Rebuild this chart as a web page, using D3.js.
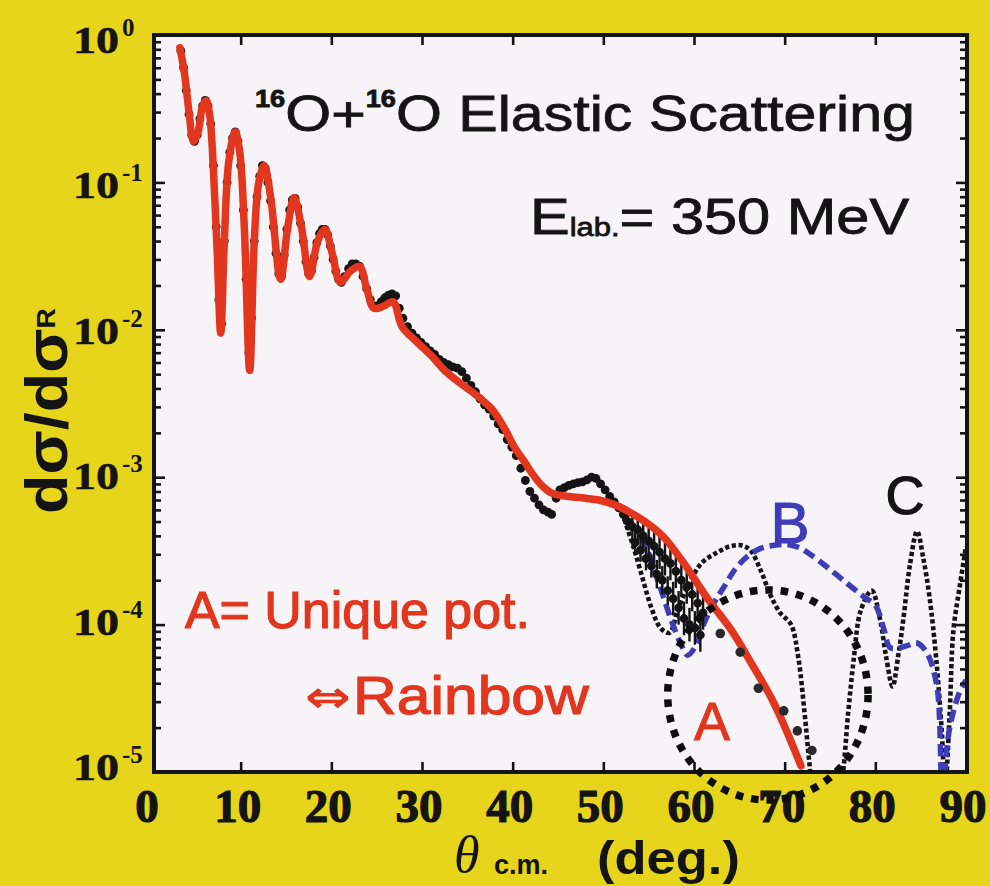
<!DOCTYPE html>
<html>
<head>
<meta charset="utf-8">
<script src="https://cdn.jsdelivr.net/npm/d3@7"></script>
<style>
  html, body { margin: 0; padding: 0; background: #e6d51b; }
  svg { display: block; }
</style>
</head>
<body>
<svg id="chart" width="990" height="886"></svg>
<script>
// ---- 16O + 16O elastic scattering at E_lab = 350 MeV (ratio to Rutherford) ----

// measured cross sections: [theta_cm (deg), dsigma/dsigma_R, error factor]
const measured = [
  [3.4,0.78,1],[3.7,0.6,1],[4.0,0.42,1],[4.3,0.29,1],[4.6,0.21,1],[4.9,0.19,1],[5.2,0.21,1],
  [5.5,0.27,1],[5.8,0.33,1],[6.1,0.36,1],[6.4,0.33,1],[6.7,0.25,1],[7.0,0.13,1],[7.3,0.05,1],
  [7.6,0.016,1],[7.9,0.011,1],[8.2,0.04,1],[8.5,0.1,1],[8.8,0.16,1],[9.1,0.2,1],[9.4,0.22,1],
  [9.7,0.19,1],[10.0,0.13,1],[10.3,0.065,1],[10.6,0.022,1],[10.9,0.007,1],[11.2,0.012,1],
  [11.5,0.04,1],[11.8,0.08,1],[12.1,0.11,1],[12.4,0.13,1],[12.7,0.125,1],[13.0,0.1,1],
  [13.3,0.075,1],[13.6,0.05,1],[13.9,0.033,1],[14.2,0.024,1],[14.5,0.023,1],[14.8,0.032,1],
  [15.1,0.048,1],[15.4,0.065,1],[15.7,0.076,1],[16.0,0.078,1],[16.3,0.068,1],[16.6,0.053,1],
  [16.9,0.04,1],[17.2,0.029,1],[17.5,0.024,1],[17.8,0.025,1],[18.1,0.031,1],[18.4,0.039,1],
  [18.7,0.045,1],[19.0,0.048,1],[19.3,0.048,1],[19.6,0.044,1],[19.9,0.037,1],[20.2,0.03,1],
  [20.5,0.025,1],[20.8,0.022,1],[21.1,0.021,1],[21.5,0.023,1],[21.9,0.026,1],[22.3,0.028,1],
  [22.7,0.028,1],[23.1,0.027,1],[23.5,0.023,1],[23.9,0.019,1],[24.3,0.016,1],[24.7,0.0145,1],
  [25.1,0.0145,1],[25.5,0.0155,1],[25.9,0.0165,1],[26.3,0.0172,1],[26.7,0.0175,1],
  [27.1,0.017,1],[27.5,0.014,1],[27.9,0.012,1],
  [28.4,0.0105,1],[28.9,0.0095,1],[29.4,0.0088,1],[29.9,0.0082,1],[30.4,0.0077,1],
  [30.9,0.0072,1],[31.4,0.0068,1],[31.9,0.0063,1],[32.4,0.006,1],[32.9,0.0058,1],
  [33.4,0.0056,1],[33.9,0.0055,1],[34.4,0.0052,1],[34.9,0.0047,1],[35.4,0.0042,1],
  [35.9,0.0038,1],[36.4,0.0034,1],[36.9,0.0031,1],[37.4,0.0029,1],[37.9,0.0026,1],
  [38.4,0.0023,1],[38.9,0.0021,1],[39.4,0.0018,1],[39.9,0.0016,1],[40.4,0.0014,1],
  [40.9,0.00115,1],[41.4,0.00095,1],[41.9,0.0008,1],[42.4,0.00072,1],[42.9,0.00065,1],
  [43.4,0.0006,1],[43.9,0.00058,1],[44.3,0.00056,1],[44.8,0.00072,1],[45.2,0.00082,1],
  [45.7,0.00085,1],[46.2,0.00088,1],[46.7,0.0009,1],[47.2,0.00092,1],[47.7,0.00093,1],
  [48.2,0.00096,1],[48.7,0.001,1],[49.2,0.00098,1],[49.7,0.0009,1],[50.2,0.00082,1],
  [50.7,0.00074,1],[51.2,0.00068,1],[51.7,0.00062,1],[52.2,0.00056,1.1],[52.7,0.0005,1.15],
  [53.2,0.00046,1.2],[53.5,0.00036,1.2],[53.8,0.00044,1.25],[54.1,0.00032,1.2],
  [54.4,0.0004,1.25],[54.7,0.00028,1.2],[55.0,0.00037,1.3],[55.3,0.00025,1.2],
  [55.6,0.00034,1.3],[55.9,0.00022,1.25],[56.2,0.00031,1.3],[56.5,0.0002,1.25],
  [56.8,0.00028,1.3],[57.1,0.00017,1.25],[57.4,0.00026,1.3],[57.7,0.00015,1.3],
  [58.0,0.00023,1.3],[58.3,0.00013,1.3],[58.6,0.0002,1.3],[58.9,0.00011,1.3],
  [59.2,0.00018,1.3],[59.5,0.0001,1.3],[59.8,0.00016,1.3],[60.1,0.000095,1.3],
  [60.4,0.00014,1.3],[60.7,0.000085,1.3],[61.0,0.00012,1.3],
  [62.9,8.7e-5,1],[65.1,6.5e-5,1],[67.1,3.7e-5,1],[69.9,2.6e-5,1],[71.4,1.9e-5,1],[73.0,1.4e-5,1]
];

// A: unique (rainbow) potential
const thetaA = [3.3,3.8,4.3,4.8,5.3,5.8,6.2,6.6,7.0,7.4,7.8,8.2,8.7,9.4,9.9,10.4,11.0,11.5,
  12.0,12.6,13.3,14.4,15.2,15.9,16.7,17.6,18.5,19.3,20.1,21.0,22.1,23.1,23.9,24.7,25.8,26.8,
  27.8,29.5,31.1,32.5,34.1,36.0,37.7,39.0,40.2,41.2,42.1,43.2,44.3,46.2,48.0,49.5,51.5,53.1,
  55.0,56.7,58.9,61.5,64.1,66.3,68.5,69.9,71.8];
const sigmaA = [0.82,0.55,0.3,0.19,0.22,0.33,0.36,0.28,0.12,0.035,0.0095,0.04,0.14,0.22,0.16,
  0.05,0.0053,0.04,0.1,0.13,0.08,0.022,0.05,0.079,0.05,0.023,0.04,0.048,0.033,0.021,0.025,
  0.027,0.019,0.014,0.0145,0.0155,0.0105,0.0082,0.0066,0.0053,0.0044,0.0036,0.0029,0.0022,
  0.0016,0.0013,0.00107,0.00088,0.00078,0.00074,0.00072,0.0007,0.00064,0.00057,0.00048,
  0.00039,0.00026,0.00015,9.2e-5,5.5e-5,3.2e-5,2.1e-5,1.1e-5];

// B: alternative potential (dashed)
const thetaB = [53.0,54.5,56.0,57.5,58.5,59.3,60.2,61.1,62.2,63.3,64.6,65.9,67.4,68.8,70.2,
  71.5,72.8,74.7,76.9,78.7,80.0,80.9,81.6,82.4,83.5,84.6,85.7,86.8,87.4,88.2,89.3,90.0];
const sigmaB = [5.0e-4,3.6e-4,2.0e-4,1.07e-4,7.5e-5,6.2e-5,7.2e-5,1.02e-4,1.4e-4,1.8e-4,
  2.4e-4,2.9e-4,3.3e-4,3.45e-4,3.5e-4,3.35e-4,3.0e-4,2.45e-4,1.9e-4,1.55e-4,1.35e-4,9.5e-5,
  7.0e-5,6.9e-5,7.2e-5,7.5e-5,6.4e-5,3.8e-5,8e-6,2.0e-5,3.5e-5,4.2e-5];

// C: alternative potential (dotted)
const thetaC = [52.3,53.3,54.2,55.3,56.3,57.3,58.2,59.3,60.8,62.6,64.0,65.2,66.2,67.4,68.4,
  69.5,70.7,71.5,72.2,72.7,73.3,74.8,76.2,77.0,77.6,78.4,79.6,80.5,81.2,81.9,82.5,83.1,83.8,
  84.6,85.3,86.0,86.7,87.3,87.7,88.2,88.6,89.3,90.0];
const sigmaC = [5.2e-4,3.4e-4,2.2e-4,1.3e-4,9.5e-5,8.8e-5,1.25e-4,1.8e-4,2.6e-4,3.1e-4,3.4e-4,
  3.45e-4,3.2e-4,2.3e-4,1.6e-4,1.2e-4,1.0e-4,6.0e-5,2.5e-5,1.2e-5,6e-6,4e-6,8e-6,2.5e-5,
  5.7e-5,1.25e-4,1.7e-4,1.1e-4,6.0e-5,3.8e-5,6.0e-5,1.1e-4,2.5e-4,4.3e-4,2.8e-4,1.5e-4,6e-5,
  2e-5,8e-6,2.5e-5,9e-5,1.8e-4,3.4e-4];

// highlighted rainbow region: theta range and sigma range of the dotted ring
const ringTheta = [57.1, 79.2];
const ringSigma = [1.72e-4, 6.45e-6];

const xTickValues = [0,10,20,30,40,50,60,70,80,90];
const yDecades = [0,-1,-2,-3,-4,-5];

// ---- layout ----
const frame = { left: 154, right: 967, top: 35, bottom: 772 };
const x = d3.scaleLinear().domain([0, 90]).range([150, 966]);
const y = d3.scaleLog().domain([1e-5, 1]).range([frame.bottom, frame.top]);

const RED = "#e2361f", BLUE = "#3e3cb8", INK = "#141414";

const svg = d3.select("#chart");
svg.append("rect").attr("width", 990).attr("height", 886).attr("fill", "#e6d51b");
svg.append("rect")
  .attr("x", frame.left).attr("y", frame.top)
  .attr("width", frame.right - frame.left).attr("height", frame.bottom - frame.top)
  .attr("fill", "#f6f4f6");

svg.append("defs").append("clipPath").attr("id", "plotClip")
  .append("rect")
  .attr("x", frame.left).attr("y", frame.top)
  .attr("width", frame.right - frame.left).attr("height", frame.bottom - frame.top);

const plot = svg.append("g").attr("clip-path", "url(#plotClip)");

const line = d3.line()
  .x(d => x(d[0])).y(d => y(d[1]))
  .curve(d3.curveCatmullRom.alpha(0.5));

const zip = (a, b) => a.map((v, i) => [v, b[i]]);

// C (dotted black)
plot.append("path").datum(zip(thetaC, sigmaC))
  .attr("d", line).attr("fill", "none")
  .attr("stroke", INK).attr("stroke-width", 4.6)
  .attr("stroke-dasharray", "4.2 2.6");

// B (dashed blue)
plot.append("path").datum(zip(thetaB, sigmaB))
  .attr("d", line).attr("fill", "none")
  .attr("stroke", BLUE).attr("stroke-width", 5.5)
  .attr("stroke-dasharray", "12 6");

// measured points below the A curve, with vertical error bars where given
const smallPts = measured.filter(d => d[0] < 62);
plot.selectAll("line.err").data(smallPts.filter(d => d[2] > 1)).join("line")
  .attr("class", "err")
  .attr("x1", d => x(d[0])).attr("x2", d => x(d[0]))
  .attr("y1", d => y(d[1] * d[2])).attr("y2", d => y(d[1] / d[2]))
  .attr("stroke", INK).attr("stroke-width", 2.4);
plot.selectAll("circle.pt").data(smallPts).join("circle")
  .attr("class", "pt")
  .attr("cx", d => x(d[0])).attr("cy", d => y(d[1]))
  .attr("r", 4.4).attr("fill", INK);

// A (red solid)
plot.append("path").datum(zip(thetaA, sigmaA))
  .attr("d", line).attr("fill", "none")
  .attr("stroke", RED).attr("stroke-width", 7.5)
  .attr("stroke-linejoin", "round").attr("stroke-linecap", "round");

// sparse large-angle points
plot.selectAll("circle.pt2").data(measured.filter(d => d[0] >= 62)).join("circle")
  .attr("class", "pt2")
  .attr("cx", d => x(d[0])).attr("cy", d => y(d[1]))
  .attr("r", 4.8).attr("fill", "#2a2a2a");

// ---- axes: inward ticks on all four sides ----
const minorVals = [];
for (let e = -5; e < 0; e++) for (let k = 2; k <= 9; k++) minorVals.push(k * Math.pow(10, e));
const majorVals = yDecades.map(d => Math.pow(10, d));
const xInner = xTickValues.filter(v => v > 0 && v < 90);

function styleAxis(g) {
  g.select(".domain").remove();
  g.selectAll("line").attr("stroke", INK).attr("stroke-width", 2.6);
  g.selectAll("text").remove();
}
svg.append("g").attr("transform", `translate(${frame.left},0)`)
  .call(d3.axisLeft(y).tickValues(majorVals).tickSize(-11)).call(styleAxis);
svg.append("g").attr("transform", `translate(${frame.left},0)`)
  .call(d3.axisLeft(y).tickValues(minorVals).tickSize(-7)).call(styleAxis);
svg.append("g").attr("transform", `translate(${frame.right},0)`)
  .call(d3.axisRight(y).tickValues(majorVals).tickSize(-11)).call(styleAxis);
svg.append("g").attr("transform", `translate(${frame.right},0)`)
  .call(d3.axisRight(y).tickValues(minorVals).tickSize(-7)).call(styleAxis);
svg.append("g").attr("transform", `translate(0,${frame.bottom})`)
  .call(d3.axisBottom(x).tickValues(xInner).tickSize(-10)).call(styleAxis);
svg.append("g").attr("transform", `translate(0,${frame.top})`)
  .call(d3.axisTop(x).tickValues(xInner).tickSize(-10)).call(styleAxis);

svg.append("rect")
  .attr("x", frame.left).attr("y", frame.top)
  .attr("width", frame.right - frame.left).attr("height", frame.bottom - frame.top)
  .attr("fill", "none").attr("stroke", INK).attr("stroke-width", 4);

// ---- tick labels ----
const serif = "'Liberation Serif','Times New Roman',serif";
const sans = "'Liberation Sans',Arial,'DejaVu Sans',sans-serif";

// stretch a text element horizontally to a given span starting at x0
function fit(sel, x0, width) {
  const w = sel.node().getBBox().width;
  sel.attr("transform", `translate(${x0},0) scale(${width / w},1) translate(${-x0},0)`);
  return sel;
}

yDecades.forEach((d, i) => {
  const ty = y(Math.pow(10, d)) + 5 - 2 * i;   // label centre
  const base = svg.append("text").attr("x", 73).attr("y", ty + 13)
    .attr("font-family", serif).attr("font-weight", "bold")
    .attr("font-size", 38).attr("fill", INK)
    .attr("stroke", INK).attr("stroke-width", 0.6).text("10");
  fit(base, 73, 46);
  svg.append("text").attr("x", 122).attr("y", ty - 4)
    .attr("font-family", serif).attr("font-weight", "bold")
    .attr("font-size", 25).attr("fill", INK).text(d === 0 ? "0" : "-" + (-d));
});

xTickValues.forEach(v => {
  svg.append("text").attr("x", x(v) - 3).attr("y", 822)
    .attr("text-anchor", "middle").attr("font-family", serif).attr("font-weight", "bold")
    .attr("font-size", 47).attr("fill", INK)
    .attr("stroke", INK).attr("stroke-width", 1.2)
    .text(v);
});

// x axis title
svg.append("text").attr("x", 454).attr("y", 872).attr("fill", INK)
  .attr("font-family", serif).attr("font-style", "italic").attr("font-size", 52).text("θ");
svg.append("text").attr("x", 494).attr("y", 874).attr("fill", INK)
  .attr("font-family", sans).attr("font-weight", "bold").attr("font-size", 27).text("c.m.");
const deg = svg.append("text").attr("x", 597).attr("y", 874).attr("fill", INK)
  .attr("font-family", sans).attr("font-weight", "bold").attr("font-size", 47).text("(deg.)");
fit(deg, 597, 143);

// y axis title (reads bottom to top)
const yt = svg.append("text")
  .attr("font-family", sans).attr("font-weight", "bold").attr("font-size", 60).attr("fill", INK);
yt.append("tspan").text("dσ/dσ");
yt.append("tspan").attr("font-size", 26).attr("dy", -12).text("R");
{
  const w = yt.node().getBBox().width;
  yt.attr("transform", `translate(67,514) rotate(-90) scale(${206 / w},1)`);
}

// ---- annotations ----
const title = svg.append("text").attr("x", 255).attr("y", 131)
  .attr("font-family", sans).attr("font-size", 50).attr("fill", INK)
  .attr("stroke", INK).attr("stroke-width", 0.8);
title.append("tspan").attr("font-size", 23).attr("font-weight", "bold").attr("dy", -24).text("16");
title.append("tspan").attr("dy", 24).text("O+");
title.append("tspan").attr("font-size", 23).attr("font-weight", "bold").attr("dy", -24).text("16");
title.append("tspan").attr("dy", 24).text("O Elastic Scattering");
fit(title, 255, 660);

const elab = svg.append("text").attr("x", 530).attr("y", 234)
  .attr("font-family", sans).attr("font-size", 50).attr("fill", INK)
  .attr("stroke", INK).attr("stroke-width", 0.8);
elab.append("tspan").text("E");
elab.append("tspan").attr("font-size", 26).attr("dy", 2).text("lab.");
elab.append("tspan").attr("dy", -2).text("= 350 MeV");
fit(elab, 530, 380);

const la = svg.append("text").attr("x", 185).attr("y", 628)
  .attr("font-family", sans).attr("font-size", 52).attr("fill", RED)
  .attr("stroke", RED).attr("stroke-width", 1.2).text("A= Unique pot.");
fit(la, 185, 345);

const arrow = svg.append("text").attr("x", 305).attr("y", 712)
  .attr("font-family", "'DejaVu Sans',sans-serif").attr("font-weight", "bold")
  .attr("font-size", 44).attr("fill", RED).text("⇔");
fit(arrow, 305, 46);
const rb = svg.append("text").attr("x", 353).attr("y", 714)
  .attr("font-family", sans).attr("font-size", 54).attr("fill", RED)
  .attr("stroke", RED).attr("stroke-width", 1.2).text("Rainbow");
fit(rb, 353, 237);

svg.append("text").attr("x", 712).attr("y", 740).attr("text-anchor", "middle")
  .attr("font-family", sans).attr("font-size", 54).attr("fill", RED)
  .attr("stroke", RED).attr("stroke-width", 1).text("A");
svg.append("text").attr("x", 790).attr("y", 543).attr("text-anchor", "middle")
  .attr("font-family", sans).attr("font-size", 58).attr("fill", BLUE)
  .attr("stroke", BLUE).attr("stroke-width", 1.2).text("B");
svg.append("text").attr("x", 905).attr("y", 514).attr("text-anchor", "middle")
  .attr("font-family", sans).attr("font-size", 54).attr("fill", INK)
  .attr("stroke", INK).attr("stroke-width", 1.2).text("C");

// dotted ring around the rainbow fall-off
const rx0 = x(ringTheta[0]), rx1 = x(ringTheta[1]);
const ry0 = y(ringSigma[0]), ry1 = y(ringSigma[1]);
svg.append("ellipse")
  .attr("cx", (rx0 + rx1) / 2).attr("cy", (ry0 + ry1) / 2)
  .attr("rx", (rx1 - rx0) / 2).attr("ry", (ry1 - ry0) / 2)
  .attr("fill", "none").attr("stroke", "#0d0d0d").attr("stroke-width", 7.5)
  .attr("stroke-dasharray", "7.5 8");
</script>
</body>
</html>
